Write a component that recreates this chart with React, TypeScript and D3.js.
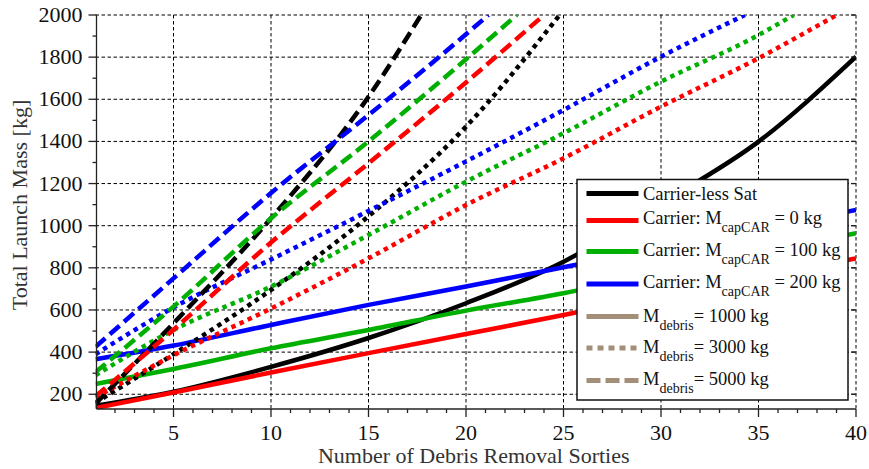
import React from 'react';
import * as d3 from 'd3';

// sorties (x) and total launch mass in kg (y)
const sorties = [1, 5, 10, 15, 20, 25, 30, 35, 40];

// M_debris = 1000 kg (solid)
const carrierless1000 = [145, 212, 330, 467, 632, 829, 1105, 1399, 1802];
const cap0_1000 = [135, 208, 303, 395, 486, 576, 670, 758, 845];
const cap100_1000 = [249, 320, 418, 505, 597, 679, 775, 870, 964];
const cap200_1000 = [366, 431, 529, 624, 711, 803, 895, 985, 1075];

// M_debris = 3000 kg (dotted)
const carrierless3000X = [1, 5, 10, 15, 20, 24.8];
const carrierless3000 = [160, 390, 695, 1045, 1470, 2000];
const cap0_3000X = [1, 5, 10, 15, 20, 25, 30, 35, 39];
const cap0_3000 = [185, 385, 607, 845, 1098, 1320, 1565, 1795, 2000];
const cap100_3000X = [1, 5, 10, 15, 20, 25, 30, 35, 36.8];
const cap100_3000 = [290, 505, 711, 956, 1209, 1439, 1684, 1905, 2000];
const cap200_3000X = [1, 5, 10, 15, 20, 25, 30, 34.3];
const cap200_3000 = [390, 612, 840, 1070, 1305, 1549, 1802, 2000];

// M_debris = 5000 kg (dashed)
const carrierless5000X = [1, 5, 10, 15, 17.7];
const carrierless5000 = [155, 537, 1035, 1612, 2000];
const cap0_5000X = [1, 5, 10, 15, 20, 24];
const cap0_5000 = [190, 506, 920, 1296, 1680, 2000];
const cap100_5000X = [1, 5, 10, 15, 20, 22.6];
const cap100_5000 = [305, 616, 1035, 1400, 1790, 2000];
const cap200_5000X = [1, 5, 10, 15, 19, 21.15];
const cap200_5000 = [425, 750, 1155, 1525, 1830, 2000];

const xTicks = [5, 10, 15, 20, 25, 30, 35, 40];
const yTicks = [200, 400, 600, 800, 1000, 1200, 1400, 1600, 1800, 2000];

const BLACK = '#000000';
const RED = '#ff0000';
const GREEN = '#00b000';
const BLUE = '#0000ff';
const BROWN = '#a38e78';

const DOTTED = '4.5,4.5';
const DASHED = '13,6';

const FONT = '"Liberation Serif", "Times New Roman", serif';

const W = 869;
const H = 469;
const left = 95.5;
const right = 856;
const top = 15;
const bottom = 409;

export default function App() {
  const x = d3.scaleLinear().domain([1, 40]).range([left, right]);
  const y = d3.scaleLinear().domain([130, 2000]).range([bottom, top]);

  const line = d3
    .line<[number, number]>()
    .x(d => x(d[0]))
    .y(d => y(d[1]))
    .curve(d3.curveMonotoneX);

  const zip = (xs: number[], ys: number[]) => xs.map((v, i) => [v, ys[i]] as [number, number]);

  const series = [
    { xs: sorties, ys: carrierless1000, color: BLACK, dash: null },
    { xs: sorties, ys: cap0_1000, color: RED, dash: null },
    { xs: sorties, ys: cap100_1000, color: GREEN, dash: null },
    { xs: sorties, ys: cap200_1000, color: BLUE, dash: null },
    { xs: carrierless3000X, ys: carrierless3000, color: BLACK, dash: DOTTED },
    { xs: cap0_3000X, ys: cap0_3000, color: RED, dash: DOTTED },
    { xs: cap100_3000X, ys: cap100_3000, color: GREEN, dash: DOTTED },
    { xs: cap200_3000X, ys: cap200_3000, color: BLUE, dash: DOTTED },
    { xs: carrierless5000X, ys: carrierless5000, color: BLACK, dash: DASHED },
    { xs: cap0_5000X, ys: cap0_5000, color: RED, dash: DASHED },
    { xs: cap100_5000X, ys: cap100_5000, color: GREEN, dash: DASHED },
    { xs: cap200_5000X, ys: cap200_5000, color: BLUE, dash: DASHED },
  ];

  const minorX = d3.range(2, 40).filter(v => v % 5 !== 0);
  const minorY = d3.range(300, 2000, 200);

  const legendRows = [
    { color: BLACK, dash: null, y: 193.5, base: 199.5, label: 'Carrier-less Sat' },
    { color: RED, dash: null, y: 220.5, base: 223.5, pre: 'Carrier: M', sub: 'capCAR', post: ' = 0 kg' },
    { color: GREEN, dash: null, y: 251.5, base: 255.5, pre: 'Carrier: M', sub: 'capCAR', post: ' = 100 kg' },
    { color: BLUE, dash: null, y: 284, base: 287.5, pre: 'Carrier: M', sub: 'capCAR', post: ' = 200 kg' },
    { color: BROWN, dash: null, y: 316.5, base: 321.5, pre: 'M', sub: 'debris', post: '= 1000 kg' },
    { color: BROWN, dash: '6,5', y: 348, base: 353, pre: 'M', sub: 'debris', post: '= 3000 kg' },
    { color: BROWN, dash: '14,5', y: 380.5, base: 385, pre: 'M', sub: 'debris', post: '= 5000 kg' },
  ];

  return (
    <svg width={W} height={H} style={{ position: 'absolute', left: 0, top: 0, background: '#fff' }} fontFamily={FONT}>
      <defs>
        <clipPath id="plot">
          <rect x={left} y={top} width={right - left} height={bottom - top} />
        </clipPath>
      </defs>

      {/* grid */}
      <g stroke="#000" strokeWidth={1} strokeDasharray="3.5,2.5">
        {xTicks.map(t => (
          <line key={'gx' + t} x1={x(t)} x2={x(t)} y1={top} y2={bottom} />
        ))}
        {yTicks.map(t => (
          <line key={'gy' + t} x1={left} x2={right} y1={y(t)} y2={y(t)} />
        ))}
      </g>

      {/* curves */}
      <g clipPath="url(#plot)" fill="none" strokeWidth={4.5}>
        {series.map((s, i) => (
          <path
            key={i}
            d={line(zip(s.xs, s.ys)) || ''}
            stroke={s.color}
            strokeDasharray={s.dash || undefined}
          />
        ))}
      </g>

      {/* axes */}
      <g stroke="#222" strokeWidth={1.3}>
        <line x1={left + 1} x2={left + 1} y1={top} y2={bottom} />
        <line x1={left + 1} x2={right} y1={bottom} y2={bottom} />
        {yTicks.map(t => (
          <line key={'ty' + t} x1={left - 7} x2={left + 1} y1={y(t)} y2={y(t)} />
        ))}
        {minorY.map(t => (
          <line key={'my' + t} x1={left - 3} x2={left + 1} y1={y(t)} y2={y(t)} />
        ))}
        {yTicks.map(t => (
          <line key={'ry' + t} x1={right - 5} x2={right} y1={y(t)} y2={y(t)} />
        ))}
        {xTicks.map(t => (
          <line key={'tx' + t} x1={x(t)} x2={x(t)} y1={bottom} y2={bottom + 8} />
        ))}
        {minorX.map(t => (
          <line key={'mx' + t} x1={x(t)} x2={x(t)} y1={bottom} y2={bottom + 4} />
        ))}
      </g>

      {/* tick labels */}
      <g fontSize={22} fill="#111">
        {yTicks.map(t => (
          <text key={'ly' + t} x={left - 13} y={y(t) + 7} textAnchor="end">
            {t}
          </text>
        ))}
        {xTicks.map(t => (
          <text key={'lx' + t} x={x(t)} y={440} textAnchor="middle">
            {t}
          </text>
        ))}
      </g>

      {/* axis titles */}
      <text x={(left + right) / 2 - 2} y={463} textAnchor="middle" fontSize={22} fill="#333">
        Number of Debris Removal Sorties
      </text>
      <text transform="translate(27,205) rotate(-90)" textAnchor="middle" fontSize={22} fill="#333">
        Total Launch Mass [kg]
      </text>

      {/* legend */}
      <g>
        <rect x={577} y={179.5} width={271} height={220.5} fill="#fff" stroke="#111" strokeWidth={1.5} />
        {legendRows.map((r, i) => (
          <g key={'lg' + i}>
            <line
              x1={586.5}
              x2={638.5}
              y1={r.y}
              y2={r.y}
              stroke={r.color}
              strokeWidth={5}
              strokeDasharray={r.dash || undefined}
            />
            <text x={643} y={r.base} fontSize={18.5} fill="#111" style={{ whiteSpace: 'pre' }}>
              {r.label ? (
                r.label
              ) : (
                <>
                  <tspan>{r.pre}</tspan>
                  <tspan fontSize={14} dy={8}>
                    {r.sub}
                  </tspan>
                  <tspan dy={-8}>{r.post}</tspan>
                </>
              )}
            </text>
          </g>
        ))}
      </g>
    </svg>
  );
}
